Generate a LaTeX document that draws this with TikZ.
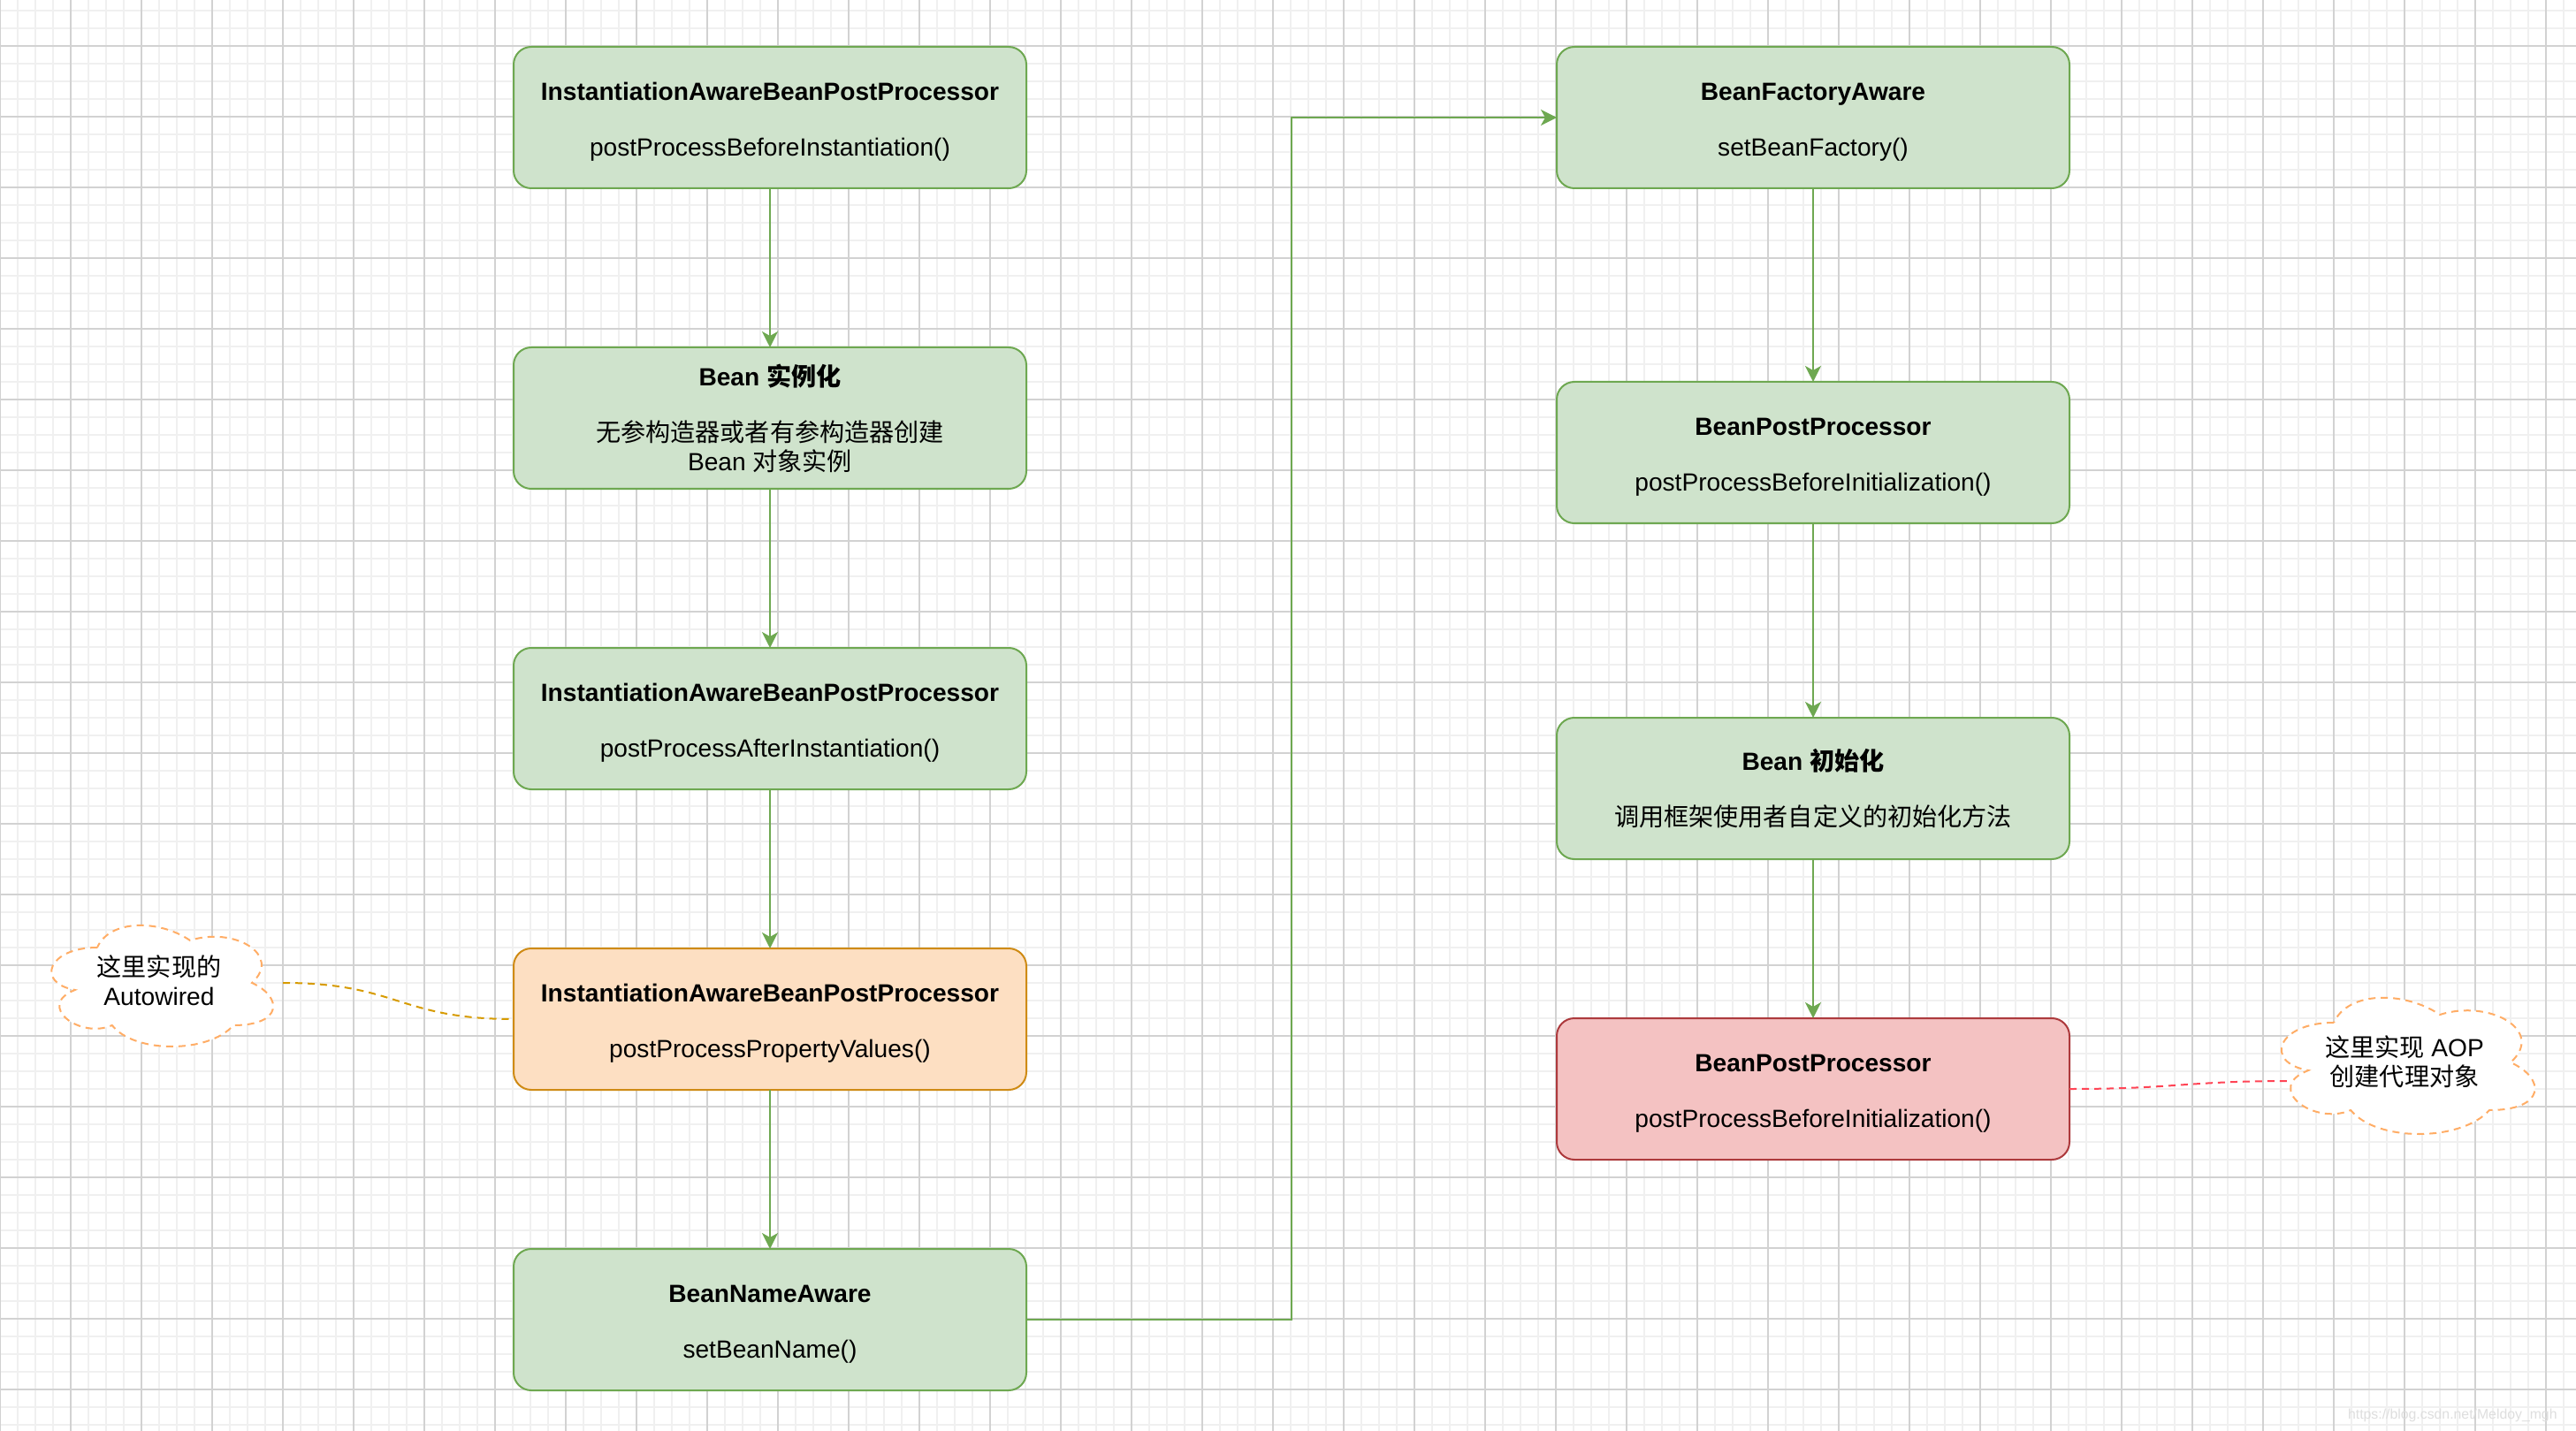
\documentclass[tikz,border=0pt]{standalone}
\usepackage{fontspec}
\setmainfont{Liberation Sans}
\newfontfamily\cjk{Noto Sans CJK SC}
\usetikzlibrary{positioning,arrows.meta,calc}

\definecolor{stepfill}{HTML}{CFE3CC}
\definecolor{stepline}{HTML}{6EA851}
\definecolor{hookfill}{HTML}{FDDFC2}
\definecolor{hookline}{HTML}{CF8B15}
\definecolor{aopfill}{HTML}{F4C2C2}
\definecolor{aopline}{HTML}{AD3A3D}
\definecolor{noteline}{HTML}{FFAD66}
\definecolor{autolinkc}{HTML}{D79B00}
\definecolor{aoplinkc}{HTML}{FF4455}
\definecolor{gridminor}{HTML}{F0F0F0}
\definecolor{gridmajor}{HTML}{D2D2D2}

\newcommand\steptitle[1]{\textbf{\rule{0pt}{8.6pt}#1}}

\begin{document}
\begin{tikzpicture}[node distance=1.8cm, every node/.style={font=\fontsize{8}{9.4}\selectfont},
  stage/.style={draw, line width=0.02cm, rounded corners=0.2cm, minimum width=5.8cm, minimum height=1.6cm, inner sep=2pt, outer sep=0pt, align=center},
  greenstage/.style={stage, fill=stepfill, draw=stepline},
  hookstage/.style={stage, fill=hookfill, draw=hookline},
  aopstage/.style={stage, fill=aopfill, draw=aopline},
  flow/.style={draw=stepline, line width=0.02cm, -{Stealth[length=0.18cm, width=0.18cm, inset=0.05cm]}},
  notelink/.style={line width=0.02cm, dash pattern=on 0.08cm off 0.06cm},
  notetext/.style={inner sep=0pt, outer sep=0pt, align=center},
  pics/notecloud/.style={code={
    \draw[noteline, fill=white, line width=0.02cm, dash pattern=on 0.08cm off 0.06cm]
      (-0.25,0.25) .. controls (-0.45,0.25) and (-0.5,0) .. (-0.34,-0.05)
      .. controls (-0.5,-0.16) and (-0.32,-0.4) .. (-0.19,-0.3)
      .. controls (-0.1,-0.5) and (0.2,-0.5) .. (0.3,-0.3)
      .. controls (0.5,-0.3) and (0.5,-0.1) .. (0.375,0)
      .. controls (0.5,0.2) and (0.3,0.4) .. (0.125,0.3)
      .. controls (0,0.45) and (-0.2,0.45) .. (-0.25,0.25) -- cycle;}}]

  \useasboundingbox (0,0) rectangle (29.14,16.18);
  \begin{scope}
    \clip (0,0) rectangle (29.14,16.18);
    \fill[white] (0,0) rectangle (29.14,16.18);
    \draw[gridminor, line width=0.02cm, step=0.2cm, yshift=0.06cm] (0,-0.2) grid (29.2,16.2);
    \draw[gridmajor, line width=0.012cm, step=0.8cm, yshift=0.46cm] (0,-0.8) grid (29.6,16.8);
  \end{scope}

  \node[greenstage] (ibpp1) at (8.71,14.85) {\steptitle{InstantiationAwareBeanPostProcessor}\\[8.5pt]postProcessBeforeInstantiation()};
  \node[greenstage, below=of ibpp1] (inst) {\textbf{Bean {\cjk 实例化}}\\[8.5pt]{\cjk 无参构造器或者有参构造器创建}\\Bean {\cjk 对象实例}};
  \node[greenstage, below=of inst] (ibpp2) {\steptitle{InstantiationAwareBeanPostProcessor}\\[8.5pt]postProcessAfterInstantiation()};
  \node[hookstage, below=of ibpp2] (autowire) {\steptitle{InstantiationAwareBeanPostProcessor}\\[8.5pt]postProcessPropertyValues()};
  \node[greenstage, below=of autowire] (namea) {\steptitle{BeanNameAware}\\[8.5pt]setBeanName()};

  \node[greenstage, right=6cm of ibpp1] (factorya) {\steptitle{BeanFactoryAware}\\[8.5pt]setBeanFactory()};
  \node[greenstage, below=2.19cm of factorya] (bpp1) {\steptitle{BeanPostProcessor}\\[8.5pt]postProcessBeforeInitialization()};
  \node[greenstage, below=2.2cm of bpp1] (initb) {\textbf{Bean {\cjk 初始化}}\\[8.5pt]{\cjk 调用框架使用者自定义的初始化方法}};
  \node[aopstage, below=of initb] (bpp2) {\steptitle{BeanPostProcessor}\\[8.5pt]postProcessBeforeInitialization()};

  \coordinate[left=4.01cm of autowire.west, yshift=0.41cm] (autoc);
  \pic[x=2.8cm, y=1.6cm] at (autoc) {notecloud};
  \node[notetext, minimum width=2.8cm, minimum height=1.6cm] (autonote) at (autoc) {{\cjk 这里实现的}\\Autowired\rule[-1.5pt]{0pt}{0pt}};

  \coordinate[right=3.79cm of bpp2.east, yshift=0.3cm] (aopc);
  \pic[x=3.2cm, y=1.8cm] at (aopc) {notecloud};
  \node[notetext, minimum width=3.2cm, minimum height=1.8cm] (aopnote) at (aopc) {{\cjk 这里实现} AOP\\{\cjk 创建代理对象}\rule[-1pt]{0pt}{0pt}};
  \coordinate (aopin) at ($(aopnote.west)+(0.32,-0.21)$);

  \draw[flow] (ibpp1) -- (inst);
  \draw[flow] (inst) -- (ibpp2);
  \draw[flow] (ibpp2) -- (autowire);
  \draw[flow] (autowire) -- (namea);
  \draw[flow] (namea.east) -- ++(3,0) |- (factorya.west);
  \draw[flow] (factorya) -- (bpp1);
  \draw[flow] (bpp1) -- (initb);
  \draw[flow] (initb) -- (bpp2);

  \draw[notelink, autolinkc] (autonote.east) .. controls +(1.3,0) and +(-1.3,0) .. (autowire.west);
  \draw[notelink, aoplinkc] (bpp2.east) .. controls +(1.2,0) and +(-1.2,0) .. (aopin);

  \node[anchor=base east, text=black!13, font=\fontsize{4.5}{5}\selectfont] (mark) at (29.05,0.13) {https://blog.csdn.net/Meldoy\_mgh};
\end{tikzpicture}
\end{document}
